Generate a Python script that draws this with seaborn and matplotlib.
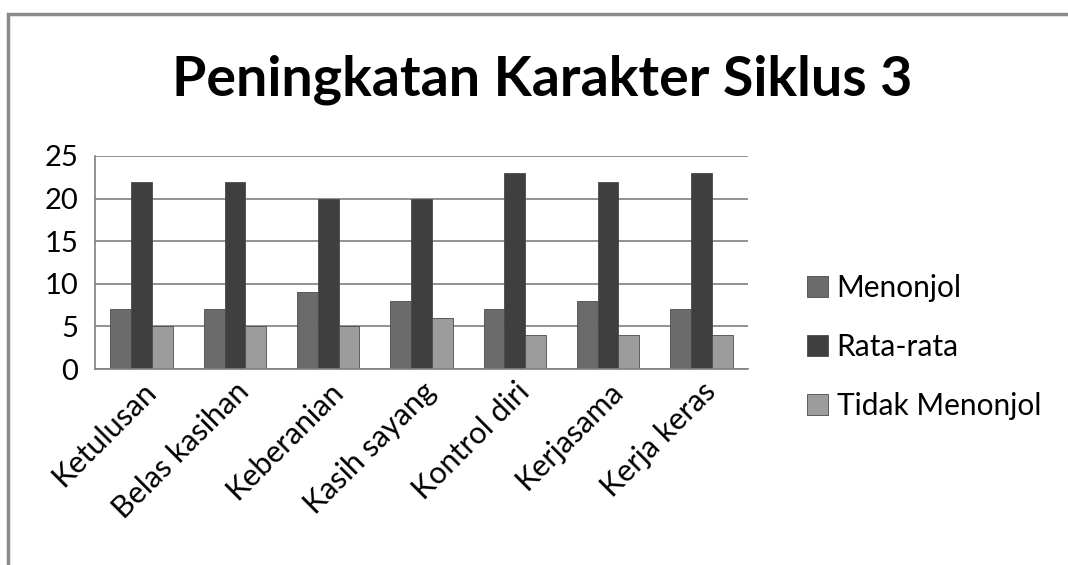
import matplotlib
matplotlib.use("Agg")
import matplotlib.pyplot as plt
import seaborn as sns
import pandas as pd
from matplotlib.patches import Rectangle

categories = ["Ketulusan", "Belas kasihan", "Keberanian", "Kasih sayang",
              "Kontrol diri", "Kerjasama", "Kerja keras"]
menonjol = [7, 7, 9, 8, 7, 8, 7]
rata_rata = [22, 22, 20, 20, 23, 22, 23]
tidak_menonjol = [5, 5, 5, 6, 4, 4, 4]
series_names = ["Menonjol", "Rata-rata", "Tidak Menonjol"]
yticks = [0, 5, 10, 15, 20, 25]
title = "Peningkatan Karakter Siklus 3"

rows = []
for name, vals in zip(series_names, [menonjol, rata_rata, tidak_menonjol]):
    for c, v in zip(categories, vals):
        rows.append({"Kategori": c, "Seri": name, "Nilai": v})
df = pd.DataFrame(rows)

sns.set_theme(style="white")
plt.rcParams['font.family'] = ['Lato', 'DejaVu Sans']
plt.rcParams['text.color'] = '#000000'
plt.rcParams['xtick.labelcolor'] = '#000000'
plt.rcParams['ytick.labelcolor'] = '#000000'

fig = plt.figure(figsize=(10.68, 5.65), dpi=100)
ax = fig.add_axes([95/1068, 1-369/565, (748-95)/1068, (369-156)/565])

palette = {"Menonjol": "#6b6b6b", "Rata-rata": "#3f3f3f", "Tidak Menonjol": "#9c9c9c"}
sns.barplot(data=df, x="Kategori", y="Nilai", hue="Seri", palette=palette,
            ax=ax, width=0.67, saturation=1, edgecolor="#4a4a4a", linewidth=0.6,
            legend=True)

ax.set_ylim(0, 25)
ax.set_yticks(yticks)
ax.set_yticklabels([str(t) for t in yticks], fontsize=21, color="#000000")
ax.set_xlim(-0.5, len(categories) - 0.5)
ax.yaxis.grid(True, color="#7f7f7f", linewidth=1.2)
ax.set_axisbelow(True)
ax.set_xlabel("")
ax.set_ylabel("")
for s in ["top", "right"]:
    ax.spines[s].set_visible(False)
ax.spines["left"].set_color("#7f7f7f")
ax.spines["bottom"].set_color("#7f7f7f")
ax.spines["left"].set_linewidth(1.2)
ax.spines["bottom"].set_linewidth(1.2)

# category separator ticks
ax.set_xticks([i - 0.5 for i in range(len(categories) + 1)], minor=True)
ax.tick_params(axis="x", which="minor", length=8, color="#7f7f7f", width=1.2, direction="out")
ax.tick_params(axis="x", which="major", length=0, pad=6)
ax.tick_params(axis="y", length=8, color="#7f7f7f", width=1.2, direction="out", pad=4)
ax.set_xticks(range(len(categories)))
ax.set_xticklabels(categories, rotation=45, ha="right", rotation_mode="anchor",
                   fontsize=22, color="#000000")

handles, labels = ax.get_legend_handles_labels()
ax.get_legend().remove()
fig.legend(handles, labels, loc="center left", bbox_to_anchor=(780/1068, 1-347/565),
           frameon=False, fontsize=21.5, labelspacing=1.05, handlelength=0.7,
           handleheight=0.7, handletextpad=0.3)

fig.text(0.508, 1-80/565, title, ha="center", va="center", fontsize=40,
         fontweight="bold", color="#000000")

fig.patches.append(Rectangle((8/1068, -0.05), 1.1, 1 - 14/565 + 0.05,
                             transform=fig.transFigure, fill=False,
                             edgecolor="#8a8a8a", linewidth=2.5))

fig.savefig("out.png", dpi=100)
